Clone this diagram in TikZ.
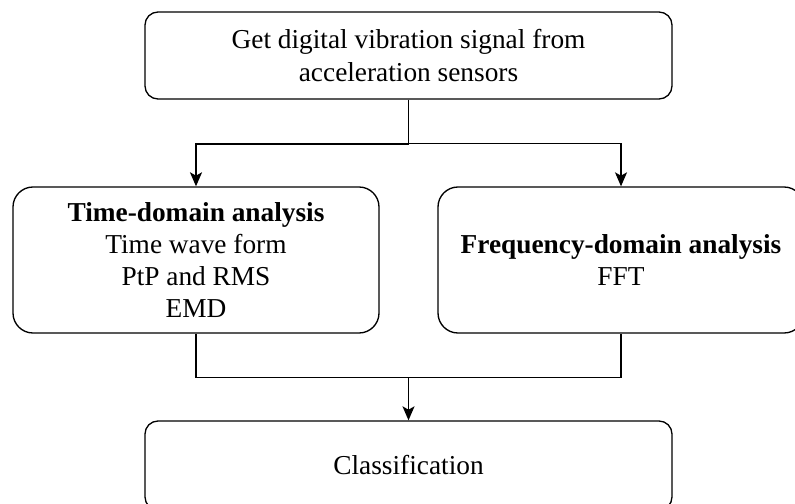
\documentclass[tikz,border=0pt]{standalone}
\usepackage{fontspec}
\setmainfont{Liberation Serif}
\usetikzlibrary{arrows.meta}

\begin{document}
\begin{tikzpicture}[x=0.75pt, y=-0.75pt,
    box/.style={rectangle, draw, line width=1pt, align=center, inner sep=0pt, font=\fontsize{20.5}{24.2}\selectfont},
    arr/.style={-{Stealth[length=10.5pt, width=9pt, inset=2.5pt]}, line width=1pt}]
    %flow chart
    \useasboundingbox (0,0) rectangle (795,503);
    \node[box, minimum width=395.25pt, minimum height=65.25pt, rounded corners=9.75pt](S) at (408.5,55.5) {Get digital vibration signal from\\acceleration sensors};
    \node[box, minimum width=274.5pt, minimum height=109.5pt, rounded corners=15pt](T) at (196,260) {\textbf{Time-domain analysis}\\Time wave form\\PtP and RMS\\EMD};
    \node[box, minimum width=274.5pt, minimum height=109.5pt, rounded corners=15pt](F) at (621,260) {\textbf{Frequency-domain analysis}\\FFT};
    \node[box, minimum width=395.25pt, minimum height=66.75pt, rounded corners=9.75pt](C) at (408.5,465.5) {Classification};
    \draw[arr, line width=1.4pt] (S.south) -- ++(0,44) coordinate(J1) -| (T.north);
    \draw[arr, line width=0.9pt] (J1) -| (F.north);
    \draw[line width=1pt] (T.south) -- ++(0,44) coordinate(J2) -| (F.south);
    \draw[arr] (C.north |- J2) -- (C.north);
\end{tikzpicture}
\end{document}
